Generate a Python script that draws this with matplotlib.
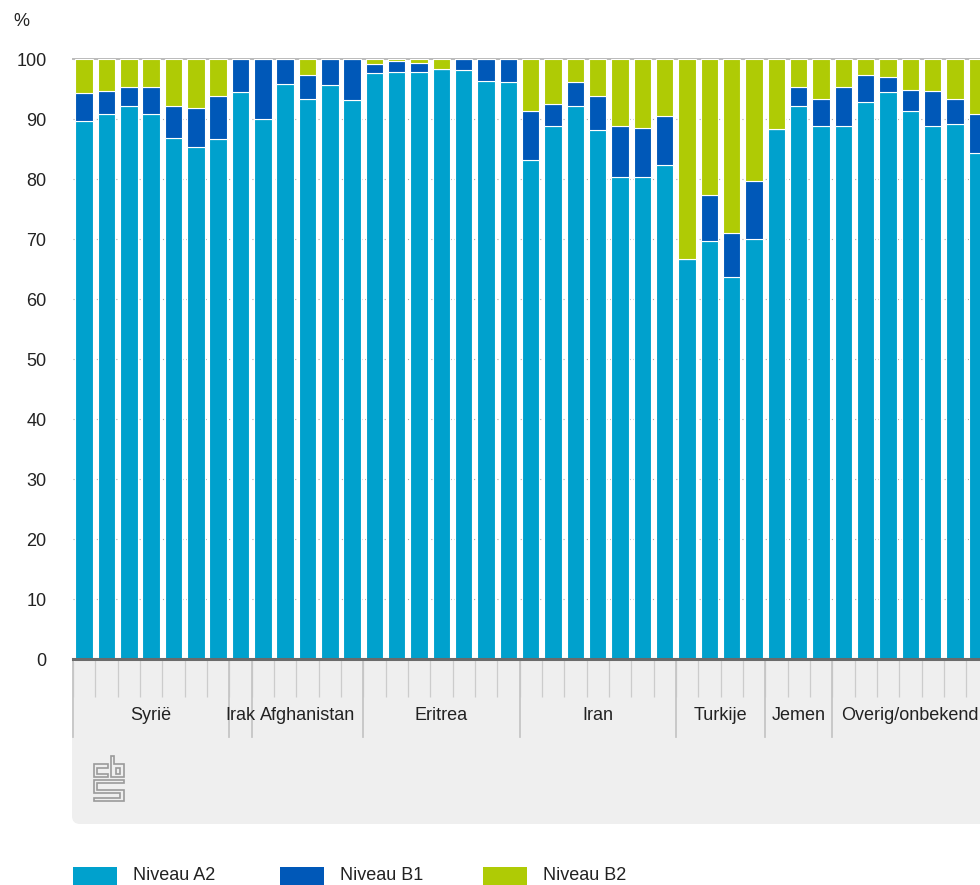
import matplotlib

matplotlib.use('Agg')  # geen GUI nodig
import matplotlib.pyplot as plt
from matplotlib.patches import FancyBboxPatch, Rectangle, Polygon
from matplotlib.transforms import blended_transform_factory, IdentityTransform

# Gegevens (in %)
groups = ['Syrië', 'Irak', 'Afghanistan', 'Eritrea', 'Iran', 'Turkije', 'Jemen', 'Overig/onbekend']
group_sizes = [7, 1, 5, 7, 7, 4, 3, 7]

a2 = [89.7, 90.8, 92.2, 90.8, 86.8, 85.4, 86.6,
      94.5,
      90.0, 95.9, 93.3, 95.6, 93.1,
      97.6, 97.9, 97.9, 98.4, 98.1, 96.4, 96.2,
      83.2, 88.8, 92.2, 88.1, 80.4, 80.4, 82.3,
      66.7, 69.7, 63.7, 70.0,
      88.3, 92.2, 88.8,
      88.8, 92.8, 94.5, 91.3, 88.8, 89.2, 84.3]
b1 = [4.6, 3.9, 3.2, 4.6, 5.4, 6.5, 7.3,
      5.5,
      10.0, 4.1, 4.0, 4.4, 6.9,
      1.5, 1.7, 1.4, 0.0, 1.9, 3.6, 3.8,
      8.2, 3.7, 4.0, 5.8, 8.4, 8.1, 8.2,
      0.0, 7.7, 7.3, 9.6,
      0.0, 3.2, 4.5,
      6.6, 4.5, 2.5, 3.5, 5.9, 4.1, 6.6]
b2 = [5.7, 5.3, 4.6, 4.6, 7.8, 8.1, 6.1,
      0.0,
      0.0, 0.0, 2.7, 0.0, 0.0,
      0.9, 0.4, 0.7, 1.6, 0.0, 0.0, 0.0,
      8.6, 7.5, 3.8, 6.1, 11.2, 11.5, 9.5,
      33.3, 22.6, 29.0, 20.4,
      11.7, 4.6, 6.7,
      4.6, 2.7, 3.0, 5.2, 5.3, 6.7, 9.1]

series_names = ['Niveau A2', 'Niveau B1', 'Niveau B2']
colors = ['#00a1cd', '#0058b8', '#afcb05']
y_ticks = [0, 10, 20, 30, 40, 50, 60, 70, 80, 90, 100]

W, H = 980, 885
plt.rcParams['font.family'] = ['Liberation Sans', 'DejaVu Sans']
text_color = '#222222'
fs = 13

fig = plt.figure(figsize=(W / 100, H / 100), dpi=100)
fig.patch.set_facecolor('white')

# Grijs vlak onder de x-as (loopt door tot buiten beeld)
panel = FancyBboxPatch((72, H - 824), 1100, 164, boxstyle='round,pad=0,rounding_size=8',
                       facecolor='#efefef', edgecolor='none',
                       transform=IdentityTransform(), zorder=-1)
fig.add_artist(panel)

# Assen: 0 ligt op y=659px, 100 op y=59px; staafafstand 22.33px
pitch = 22.33
ax = fig.add_axes([73 / W, 1 - 659 / H, (W - 73) / W, 600 / H])
ax.patch.set_alpha(0)

x = list(range(len(a2)))
bottom_b2 = [p + q for p, q in zip(a2, b1)]
bar_kw = dict(width=0.78, edgecolor='white', linewidth=0.8, zorder=2)
ax.bar(x, a2, color=colors[0], label=series_names[0], **bar_kw)
ax.bar(x, b1, bottom=a2, color=colors[1], label=series_names[1], **bar_kw)
ax.bar(x, b2, bottom=bottom_b2, color=colors[2], label=series_names[2], **bar_kw)

# Rasterlijnen
ax.set_yticks(y_ticks)
ax.yaxis.grid(True, linestyle=(0, (1, 2.5)), color='#aaaaaa', linewidth=0.8, zorder=0)
ax.set_axisbelow(True)
ax.axhline(100, color='#bbbbbb', linewidth=1.4, zorder=1, clip_on=False)

for side in ['left', 'right', 'top']:
    ax.spines[side].set_visible(False)
ax.spines['bottom'].set_color('#6b6b6b')
ax.spines['bottom'].set_linewidth(2.2)
ax.spines['bottom'].set_zorder(3)

ax.tick_params(axis='y', length=0, pad=19, labelsize=fs, labelcolor=text_color)

# Kleine streepjes tussen de staven
ax.set_xticks([i - 0.5 for i in range(len(a2) + 1)])
ax.set_xticklabels([])
ax.tick_params(axis='x', direction='out', length=27, width=0.9, color='#cccccc')

# Limieten na de ticks, anders rekt matplotlib de as op
ax.set_xlim(-0.5, -0.5 + (W - 73) / pitch)
ax.set_ylim(0, 100)

# Groepsgrenzen en -namen
trans = blended_transform_factory(ax.transData, ax.transAxes)
start = 0
for name, size in zip(groups, group_sizes):
    ax.plot([start - 0.5, start - 0.5], [0, -78 / 600], transform=trans,
            color='#c6c6c6', linewidth=1.3, clip_on=False, zorder=1)
    ax.text(start + (size - 1) / 2, -57 / 600, name, transform=trans,
            ha='center', va='center', fontsize=fs, color=text_color, clip_on=False)
    start += size

fig.text(13 / W, 1 - 22 / H, '%', ha='left', va='center', fontsize=fs, color=text_color)

# CBS-logo (eenvoudige omtrek)
def logo_shape(points):
    pts = [(px, H - py) for px, py in points]
    fig.add_artist(Polygon(pts, closed=True, fill=False, edgecolor='#9a9a9a',
                           linewidth=1.2, transform=IdentityTransform()))

logo_shape([(108, 764), (93.5, 764), (93.5, 777), (108, 777), (108, 773.5),
            (97, 773.5), (97, 767.5), (108, 767.5)])
logo_shape([(110.5, 756), (114, 756), (114, 763.5), (123.5, 763.5),
            (123.5, 777), (110.5, 777)])
logo_shape([(115.5, 767.5), (120, 767.5), (120, 773.5), (115.5, 773.5)])
logo_shape([(123.5, 779.5), (93.5, 779.5), (93.5, 793), (120, 793), (120, 797.5),
            (93.5, 797.5), (93.5, 801), (123.5, 801), (123.5, 789.5), (97, 789.5),
            (97, 783), (123.5, 783)])

# Legenda onderaan
legend_x = [73, 280, 483]
for lx, name, col in zip(legend_x, series_names, colors):
    fig.add_artist(Rectangle((lx, H - 886), 44, 19, facecolor=col, edgecolor='none',
                             transform=IdentityTransform()))
    fig.text((lx + 60) / W, 1 - 876 / H, name, ha='left', va='center',
             fontsize=fs, color=text_color)

fig.savefig('out.png', dpi=100)
plt.close(fig)
